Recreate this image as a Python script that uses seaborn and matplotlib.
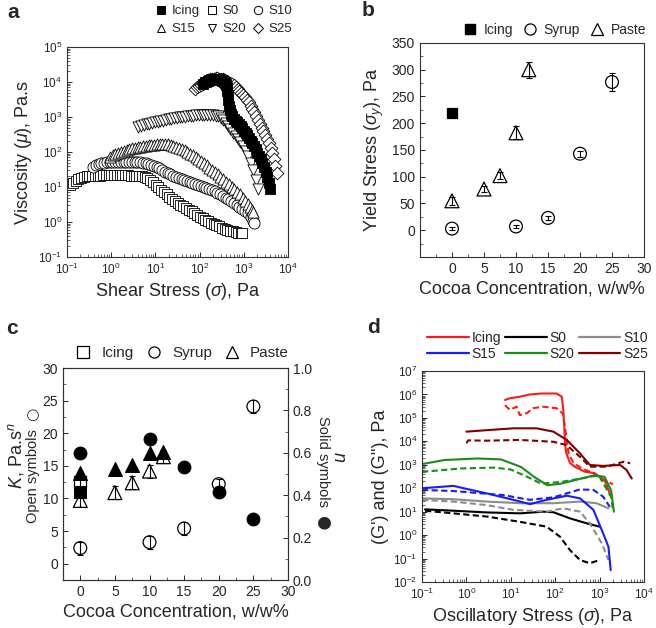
import numpy as np
import pandas as pd
import seaborn as sns
import matplotlib.pyplot as plt
from matplotlib.lines import Line2D
from matplotlib.ticker import LogLocator, MultipleLocator, NullFormatter, FormatStrFormatter

# ---------------- panel a: viscosity vs shear stress ----------------
icing_a_x = [120, 130, 141, 153, 166, 180, 196, 213, 231, 251, 273, 296, 322, 350, 380, 400,
             415, 425, 435, 445, 460, 480, 510, 550, 600, 650, 710, 780, 850, 930, 1010, 1100,
             1200, 1310, 1430, 1560, 1700, 1850, 2020, 2200, 2400, 2620, 2850, 3110, 3390,
             3700, 3900]
icing_a_y = [9000, 9700, 10300, 10900, 11400, 11800, 12000, 12100, 12100, 12000, 11800, 11500,
             11000, 10300, 9300, 8300, 7000, 5600, 4200, 3000, 2100, 1600, 1250, 1050, 900,
             790, 700, 620, 540, 470, 410, 350, 300, 250, 210, 175, 145, 118, 95, 78, 62, 48,
             37, 27, 19, 13, 9]
s0_a_x = [0.117, 0.135, 0.156, 0.18, 0.208, 0.24, 0.277, 0.32, 0.37, 0.427, 0.493, 0.569,
          0.657, 0.759, 0.877, 1.01, 1.17, 1.35, 1.56, 1.8, 2.08, 2.4, 2.77, 3.2, 3.7, 4.27,
          4.93, 5.69, 6.57, 7.59, 8.77, 10.1, 11.7, 13.5, 15.6, 18, 20.8, 24, 27.7, 32, 37,
          42.7, 49.3, 56.9, 65.7, 75.9, 87.7, 101, 117, 135, 156, 180, 208, 240, 277, 320,
          370, 427, 493, 569, 657, 759, 877, 920]
s0_a_y = [11.5, 13, 15, 17, 18.5, 19.5, 20, 20.5, 21, 21, 21, 21, 21.5, 21.5, 21.5, 21.5, 21.5,
          21.5, 21.5, 21.5, 21.5, 21.5, 21, 21, 21, 21, 20, 19, 17.5, 15.5, 13.5, 11.5, 9.8,
          8.3, 7.1, 6.1, 5.3, 4.6, 4.0, 3.5, 3.1, 2.8, 2.5, 2.2, 2.0, 1.8, 1.6, 1.4, 1.27,
          1.15, 1.05, 0.96, 0.88, 0.81, 0.75, 0.69, 0.64, 0.6, 0.57, 0.54, 0.52, 0.5, 0.485,
          0.48]
s10_a_x = [0.39, 0.45, 0.52, 0.6, 0.69, 0.8, 0.92, 1.07, 1.23, 1.42, 1.64, 1.9, 2.19, 2.53,
           2.92, 3.37, 3.9, 4.5, 5.2, 6.0, 6.9, 8.0, 9.2, 10.7, 12.3, 14.2, 16.4, 19, 21.9,
           25.3, 29.2, 33.7, 39, 45, 52, 60, 69, 80, 92, 107, 123, 142, 164, 190, 219, 253,
           292, 337, 390, 450, 520, 600, 690, 800, 920, 1070, 1230, 1420, 1640, 1700]
s10_a_y = [38, 42, 45, 48, 50, 51, 52, 52, 53, 53, 53, 53, 53, 53, 53, 52, 52, 51, 50, 48, 46,
           43, 40, 37, 34, 30, 27, 25, 23, 21, 19.5, 18, 16.5, 15.5, 14.5, 13.6, 12.8, 12,
           11.3, 10.7, 10.1, 9.6, 9.0, 8.3, 7.5, 6.8, 6.1, 5.6, 5.0, 4.4, 3.9, 3.4, 3.0, 2.6,
           2.3, 2.0, 1.75, 1.4, 1.1, 0.95]
s15_a_x = [0.94, 1.08, 1.25, 1.45, 1.67, 1.93, 2.23, 2.57, 2.97, 3.43, 3.96, 4.57, 5.28, 6.1,
           7.0, 8.1, 9.4, 10.8, 12.5, 14.4, 16.7, 19.3, 22.3, 25.7, 29.7, 34.3, 39.6, 45.7,
           52.8, 61, 70, 81, 94, 108, 125, 144, 167, 193, 223, 257, 297, 343, 396, 457, 528,
           610, 700, 810, 940, 1080, 1250, 1400, 1530, 1630]
s15_a_y = [73, 80, 88, 95, 102, 108, 115, 121, 127, 133, 138, 143, 148, 152, 156, 160, 163,
           166, 168, 168, 167, 164, 158, 150, 141, 132, 122, 112, 101, 90, 80, 71, 63, 55, 48,
           42, 36, 31, 27, 23, 19.5, 16.5, 14, 12, 10.2, 8.7, 7.3, 6.1, 5.0, 4.1, 3.3, 2.6,
           2.2, 1.9]
s20_a_x = [4.1, 4.7, 5.5, 6.3, 7.3, 8.4, 9.7, 11.2, 12.9, 14.9, 17.2, 19.9, 23, 26.5, 30.6,
           35.4, 40.8, 47, 54.4, 62.8, 72.5, 84, 97, 112, 129, 149, 172, 199, 230, 265, 300,
           340, 390, 440, 500, 570, 650, 740, 840, 960, 1100, 1250, 1420, 1620, 1850, 2140]
s20_a_y = [510, 550, 580, 610, 640, 670, 700, 730, 760, 790, 820, 850, 880, 910, 940, 970,
           1000, 1030, 1055, 1080, 1100, 1120, 1140, 1150, 1150, 1150, 1140, 1120, 1090, 1040,
           950, 820, 680, 560, 450, 360, 290, 235, 190, 150, 110, 75, 50, 30, 16, 9]
s25_a_x = [80, 88, 97, 107, 118, 130, 143, 157, 173, 190, 210, 231, 254, 280, 308, 339, 373,
           410, 451, 496, 546, 600, 660, 726, 800, 880, 968, 1065, 1170, 1290, 1420, 1560,
           1720, 1890, 2080, 2290, 2520, 2770, 3050, 3350, 3690, 4060, 4460, 4910, 5200, 5500]
s25_a_y = [6500, 7000, 7500, 8200, 9000, 9800, 10500, 11200, 11800, 12200, 12500, 12600,
           12600, 12500, 12300, 12000, 11600, 11000, 10300, 9600, 8800, 8000, 7200, 6400,
           5600, 4900, 4300, 3700, 3100, 2600, 2100, 1700, 1350, 1050, 820, 640, 500, 390,
           300, 230, 175, 130, 95, 65, 40, 25]

# ---------------- panel b: yield stress ----------------
icing_b_x = [0]
icing_b_y = [220]
icing_b_err = [6]
syrup_b_x = [0, 10, 15, 20, 25]
syrup_b_y = [3, 7, 23, 143, 277]
syrup_b_err = [3, 3, 3, 6, 16]
paste_b_x = [0, 5, 7.5, 10, 12]
paste_b_y = [55, 77, 102, 182, 300]
paste_b_err = [8, 5, 6, 12, 15]

# ---------------- panel c: K (open) and n (solid) ----------------
icing_c_x = [0]
icing_c_k = [12.5]
icing_c_kerr = [1.5]
icing_c_n = [0.417]
syrup_c_x = [0, 10, 15, 20, 25]
syrup_c_k = [2.4, 3.3, 5.4, 12.2, 24.1]
syrup_c_kerr = [1.0, 1.0, 1.0, 0.8, 1.0]
syrup_c_n = [0.60, 0.666, 0.535, 0.417, 0.29]
paste_c_x = [0, 5, 7.5, 10, 12]
paste_c_k = [9.7, 10.9, 12.4, 14.2, 16.4]
paste_c_kerr = [1.0, 1.0, 1.0, 1.0, 1.0]
paste_c_n = [0.504, 0.523, 0.543, 0.598, 0.602]

# ---------------- panel d: G' (solid) and G'' (dashed) ----------------
icing_gp_x = [7.4, 9.5, 16, 27, 50, 107, 141, 152, 160, 166, 178, 215, 275, 460, 770, 1290, 1820]
icing_gp_y = [5.8e5, 6.9e5, 8e5, 1e6, 1.1e6, 1.1e6, 8e5, 2.2e5, 4.3e4, 8.3e3, 3.1e3, 1.2e3,
              830, 510, 440, 220, 44]
icing_gpp_x = [7.4, 9.5, 13.5, 16, 23, 32, 54, 107, 150, 175, 200, 257, 400, 720, 1230, 2000]
icing_gpp_y = [3.5e5, 2.2e5, 3e5, 1.3e5, 1.6e5, 2.6e5, 3e5, 2.6e5, 1.5e5, 2e4, 3e3, 1200, 700,
               440, 220, 150]
s0_gp_x = [0.117, 0.51, 2.9, 16, 54, 91, 215, 510, 1000]
s0_gp_y = [12.6, 11, 9.3, 8.5, 10, 9.5, 5.2, 3.2, 2.3]
s0_gpp_x = [0.117, 0.51, 2.9, 16, 64, 129, 215, 363, 600, 1000]
s0_gpp_y = [11, 8.5, 6.2, 3.7, 2.3, 0.85, 0.23, 0.087, 0.063, 0.087]
s10_gp_x = [0.1, 0.51, 2.9, 16, 91, 363, 850, 1580]
s10_gp_y = [37, 34, 27, 23, 23, 27, 23, 14]
s10_gpp_x = [0.1, 0.51, 2.9, 11.5, 64, 152, 363, 600, 1120, 1580]
s10_gpp_y = [32, 27, 19, 12, 10, 14, 10, 3.2, 0.45, 0.087]
s15_gp_x = [0.1, 0.51, 2.9, 11.5, 27, 64, 182, 363, 725, 1120, 1580, 1780]
s15_gp_y = [100, 126, 60, 32, 21, 32, 48, 37, 12, 1.65, 0.32, 0.032]
s15_gpp_x = [0.1, 0.51, 6.8, 27, 91, 363, 725, 1200, 1700]
s15_gpp_y = [85, 76, 51, 32, 41, 89, 85, 44, 16]
s20_gp_x = [0.1, 0.32, 1.8, 6, 17, 34, 67, 137, 386, 775, 1300, 1820, 2100]
s20_gp_y = [1070, 1600, 1860, 1700, 810, 300, 134, 158, 260, 360, 305, 81, 10]
s20_gpp_x = [0.1, 0.76, 4.3, 10, 24, 48, 137, 386, 950, 1820, 2000]
s20_gpp_y = [500, 700, 760, 630, 300, 158, 186, 260, 360, 43, 11.5]
s25_gp_x = [1.0, 2.9, 11.5, 38, 91, 182, 360, 605, 1200, 2900, 4050, 5300]
s25_gp_y = [2.6e4, 3e4, 3.6e4, 3.6e4, 2.6e4, 1.15e4, 3100, 980, 900, 980, 600, 260]
s25_gpp_x = [1.0, 1.1, 2.9, 16, 91, 182, 360, 605, 1440, 3450, 4900]
s25_gpp_y = [8300, 1.1e4, 1.07e4, 1.15e4, 9600, 6900, 2200, 830, 830, 1350, 1170]

line_colors = {"Icing": "#ff1a1a", "S0": "#000000", "S10": "#8c8c8c",
               "S15": "#1a1aff", "S20": "#1a8c1a", "S25": "#800000"}

sns.set_style("ticks")
plt.rcParams["font.family"] = ["Liberation Sans", "DejaVu Sans"]
plt.rcParams["mathtext.fontset"] = "custom"
plt.rcParams["mathtext.rm"] = "Liberation Sans"
plt.rcParams["mathtext.it"] = "Liberation Sans:italic"
plt.rcParams["xtick.direction"] = "in"
plt.rcParams["ytick.direction"] = "in"
plt.rcParams["axes.linewidth"] = 0.8
plt.rcParams["axes.edgecolor"] = "#333333"

fig = plt.figure(figsize=(6.56, 6.28), dpi=100)
ax_a = fig.add_axes([0.1021, 0.5908, 0.3369, 0.3344])
ax_b = fig.add_axes([0.6402, 0.5908, 0.3415, 0.3408])
ax_c = fig.add_axes([0.0960, 0.0764, 0.3430, 0.3376])
ax_d = fig.add_axes([0.6433, 0.0732, 0.3384, 0.3360])

label_fs = 13


def style_log(ax, ymin, ymax):
    ax.set_xscale("log")
    ax.set_yscale("log")
    ax.set_xlim(0.1, 1e4)
    ax.set_ylim(ymin, ymax)
    for axis in (ax.xaxis, ax.yaxis):
        axis.set_major_locator(LogLocator(base=10, numticks=15))
        axis.set_minor_locator(LogLocator(base=10, subs=np.arange(2, 10), numticks=15))
        axis.set_minor_formatter(NullFormatter())
    ax.tick_params(which="major", length=3.5, width=0.7, labelsize=8.5)
    ax.tick_params(which="minor", length=2, width=0.5)


# ---- a ----
style_log(ax_a, 0.1, 1e5)
series_a = [
    ("S0", s0_a_x, s0_a_y, "s", "white", 50),
    ("S10", s10_a_x, s10_a_y, "o", "white", 64),
    ("S15", s15_a_x, s15_a_y, "^", "white", 64),
    ("S20", s20_a_x, s20_a_y, "v", "white", 64),
    ("S25", s25_a_x, s25_a_y, "D", "white", 42),
    ("Icing", icing_a_x, icing_a_y, "s", "black", 50),
]
for name, xs, ys, mk, fc, sz in series_a:
    sns.scatterplot(x=xs, y=ys, marker=mk, s=sz, facecolor=fc, edgecolor="black",
                    linewidth=0.6, ax=ax_a, legend=False)
ax_a.set_xlabel(r"Shear Stress ($\sigma$), Pa", fontsize=label_fs, labelpad=3)
ax_a.set_ylabel(r"Viscosity ($\mu$), Pa.s", fontsize=label_fs, labelpad=3)

mk_a = {"Icing": ("s", "black"), "S0": ("s", "white"), "S10": ("o", "white"),
        "S15": ("^", "white"), "S20": ("v", "white"), "S25": ("D", "white")}
order_a = ["Icing", "S15", "S0", "S20", "S10", "S25"]
handles_a = [Line2D([], [], ls="none", marker=mk_a[n][0], mfc=mk_a[n][1], mec="black",
                    ms=6 if mk_a[n][0] != "D" else 5, mew=0.7) for n in order_a]
fig.legend(handles_a, order_a, ncol=3, loc="upper right",
           bbox_to_anchor=(292 / 656, 1 - 5 / 628), frameon=False, fontsize=9.5,
           handletextpad=0.3, columnspacing=0.4, labelspacing=0.45, handlelength=1.0,
           borderpad=0, borderaxespad=0)

# ---- b ----
for xs, ys, errs in [(syrup_b_x, syrup_b_y, syrup_b_err), (paste_b_x, paste_b_y, paste_b_err),
                     (icing_b_x, icing_b_y, icing_b_err)]:
    ax_b.errorbar(xs, ys, yerr=errs, fmt="none", ecolor="black", elinewidth=0.8,
                  capsize=2, capthick=0.8)
sns.scatterplot(x=syrup_b_x, y=syrup_b_y, marker="o", s=85, facecolor="none",
                edgecolor="black", linewidth=0.9, ax=ax_b)
sns.scatterplot(x=paste_b_x, y=paste_b_y, marker="^", s=100, facecolor="none",
                edgecolor="black", linewidth=0.9, ax=ax_b)
sns.scatterplot(x=icing_b_x, y=icing_b_y, marker="s", s=55, facecolor="black",
                edgecolor="black", linewidth=0.9, ax=ax_b)
ax_b.set_xlim(-5, 30)
ax_b.set_ylim(-50, 350)
ax_b.set_xticks([0, 5, 10, 15, 20, 25, 30])
ax_b.xaxis.set_minor_locator(MultipleLocator(2.5))
ax_b.set_yticks([0, 50, 100, 150, 200, 250, 300, 350])
ax_b.yaxis.set_minor_locator(MultipleLocator(25))
ax_b.tick_params(which="major", length=3.5, width=0.7, labelsize=10)
ax_b.tick_params(which="minor", length=2, width=0.5)
ax_b.set_xlabel("Cocoa Concentration, w/w%", fontsize=label_fs, labelpad=3)
ax_b.set_ylabel(r"Yield Stress ($\sigma_y$), Pa", fontsize=label_fs, labelpad=4)

handles_b = [Line2D([], [], ls="none", marker="s", mfc="black", mec="black", ms=7),
             Line2D([], [], ls="none", marker="o", mfc="none", mec="black", ms=8, mew=0.9),
             Line2D([], [], ls="none", marker="^", mfc="none", mec="black", ms=8, mew=0.9)]
fig.legend(handles_b, ["Icing", "Syrup", "Paste"], ncol=3, loc="center right",
           bbox_to_anchor=(646 / 656, 1 - 30 / 628), frameon=False, fontsize=10,
           handletextpad=0.5, columnspacing=0.7, handlelength=1.0, borderpad=0,
           borderaxespad=0)

# ---- c ----
ax_c2 = ax_c.twinx()
for xs, ks, errs in [(syrup_c_x, syrup_c_k, syrup_c_kerr), (paste_c_x, paste_c_k, paste_c_kerr),
                     (icing_c_x, icing_c_k, icing_c_kerr)]:
    ax_c.errorbar(xs, ks, yerr=errs, fmt="none", ecolor="black", elinewidth=0.8,
                  capsize=2, capthick=0.8)
sns.scatterplot(x=icing_c_x, y=icing_c_k, marker="s", s=70, facecolor="none",
                edgecolor="black", linewidth=0.9, ax=ax_c)
sns.scatterplot(x=syrup_c_x, y=syrup_c_k, marker="o", s=85, facecolor="none",
                edgecolor="black", linewidth=0.9, ax=ax_c)
sns.scatterplot(x=paste_c_x, y=paste_c_k, marker="^", s=100, facecolor="none",
                edgecolor="black", linewidth=0.9, ax=ax_c)
sns.scatterplot(x=icing_c_x, y=icing_c_n, marker="s", s=70, color="black",
                edgecolor="black", ax=ax_c2)
sns.scatterplot(x=syrup_c_x, y=syrup_c_n, marker="o", s=85, color="black",
                edgecolor="black", ax=ax_c2)
sns.scatterplot(x=paste_c_x, y=paste_c_n, marker="^", s=100, color="black",
                edgecolor="black", ax=ax_c2)
ax_c.set_xlim(-2.5, 30)
ax_c.set_ylim(-2.5, 30)
ax_c2.set_ylim(0, 1)
ax_c.set_xticks([0, 5, 10, 15, 20, 25, 30])
ax_c.xaxis.set_minor_locator(MultipleLocator(2.5))
ax_c.set_yticks([0, 5, 10, 15, 20, 25, 30])
ax_c.yaxis.set_minor_locator(MultipleLocator(2.5))
ax_c2.set_yticks([0, 0.2, 0.4, 0.6, 0.8, 1.0])
ax_c2.yaxis.set_minor_locator(MultipleLocator(0.1))
ax_c2.yaxis.set_major_formatter(FormatStrFormatter("%.1f"))
for ax in (ax_c, ax_c2):
    ax.tick_params(which="major", length=3.5, width=0.7, labelsize=10)
    ax.tick_params(which="minor", length=2, width=0.5)
ax_c.set_xlabel("Cocoa Concentration, w/w%", fontsize=label_fs, labelpad=3)
ax_c.set_ylabel("")
ax_c2.set_ylabel("")
fig.text(16 / 656, 1 - 456 / 628, r"$K$, Pa.s$^n$", rotation=90, fontsize=label_fs,
         ha="center", va="center")
fig.text(33 / 656, 1 - 476 / 628, "Open symbols", rotation=90, fontsize=10.5,
         ha="center", va="center")
fig.text(33 / 656, 1 - 414 / 628, "\u25CB", rotation=90, fontsize=11,
         ha="center", va="center", family="DejaVu Sans")
fig.text(338 / 656, 1 - 457 / 628, r"$n$", rotation=270, fontsize=label_fs,
         ha="center", va="center")
fig.text(323 / 656, 1 - 462 / 628, "Solid symbols", rotation=270, fontsize=10.5,
         ha="center", va="center")
fig.text(323 / 656, 1 - 522 / 628, "\u25CF", rotation=270, fontsize=12,
         ha="center", va="center", family="DejaVu Sans")

handles_c = [Line2D([], [], ls="none", marker="s", mfc="none", mec="black", ms=8, mew=0.9),
             Line2D([], [], ls="none", marker="o", mfc="none", mec="black", ms=8, mew=0.9),
             Line2D([], [], ls="none", marker="^", mfc="none", mec="black", ms=8, mew=0.9)]
fig.legend(handles_c, ["Icing", "Syrup", "Paste"], ncol=3, loc="center right",
           bbox_to_anchor=(289 / 656, 1 - 353 / 628), frameon=False, fontsize=11,
           handletextpad=0.7, columnspacing=0.8, handlelength=1.0, borderpad=0,
           borderaxespad=0)

# ---- d ----
rows = []
curves_d = {
    "Icing": (icing_gp_x, icing_gp_y, icing_gpp_x, icing_gpp_y),
    "S0": (s0_gp_x, s0_gp_y, s0_gpp_x, s0_gpp_y),
    "S10": (s10_gp_x, s10_gp_y, s10_gpp_x, s10_gpp_y),
    "S15": (s15_gp_x, s15_gp_y, s15_gpp_x, s15_gpp_y),
    "S20": (s20_gp_x, s20_gp_y, s20_gpp_x, s20_gpp_y),
    "S25": (s25_gp_x, s25_gp_y, s25_gpp_x, s25_gpp_y),
}
for name, (gx, gy, hx, hy) in curves_d.items():
    for x, y in zip(gx, gy):
        rows.append({"stress": x, "modulus": y, "sample": name, "kind": "G'"})
    for x, y in zip(hx, hy):
        rows.append({"stress": x, "modulus": y, "sample": name, "kind": "G''"})
df_d = pd.DataFrame(rows)
style_log(ax_d, 1e-2, 1e7)
sns.lineplot(data=df_d, x="stress", y="modulus", hue="sample", style="kind",
             palette=line_colors, dashes={"G'": "", "G''": (3, 1.6)}, sort=False,
             estimator=None, lw=1.5, legend=False, ax=ax_d)
ax_d.set_xlim(0.1, 1e4)
ax_d.set_ylim(1e-2, 1e7)
ax_d.set_xlabel(r"Oscillatory Stress ($\sigma$), Pa", fontsize=label_fs, labelpad=3)
ax_d.set_ylabel("(G') and (G''), Pa", fontsize=label_fs, labelpad=3)

order_d = ["Icing", "S15", "S0", "S20", "S10", "S25"]
handles_d = [Line2D([], [], color=line_colors[n], lw=1.6) for n in order_d]
fig.legend(handles_d, order_d, ncol=3, loc="upper right",
           bbox_to_anchor=(648 / 656, 1 - 331 / 628), frameon=False, fontsize=10,
           handletextpad=0.2, columnspacing=0.3, labelspacing=0.15, handlelength=3.0,
           borderpad=0, borderaxespad=0)

# panel letters
for letter, px, py in [("a", 13, 12), ("b", 368, 11), ("c", 12, 328), ("d", 374, 327)]:
    fig.text(px / 656, 1 - py / 628, letter, fontsize=15, fontweight="bold",
             ha="center", va="center")

fig.savefig("out.png", dpi=100)
